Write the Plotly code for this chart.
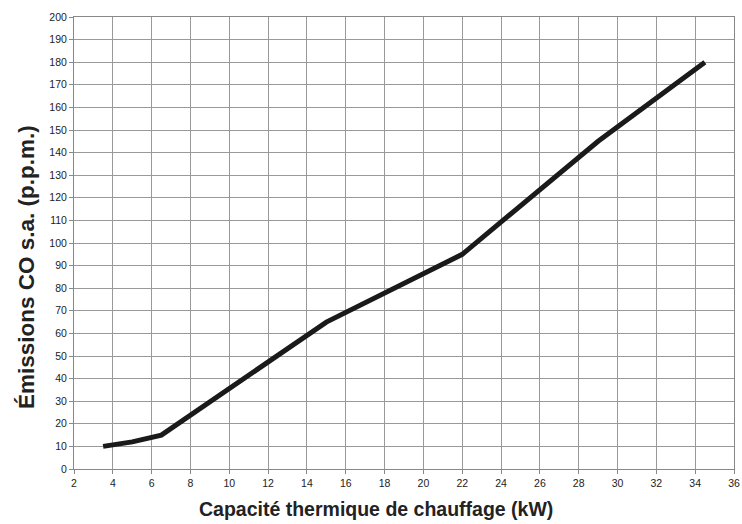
import plotly.graph_objects as go

capacity_kw = [3.5, 5, 6.5, 15, 22, 29, 34.5]
co_ppm = [10, 12, 15, 65, 95, 145, 180]

x_ticks = list(range(2, 37, 2))
y_ticks = list(range(0, 201, 10))

x_title = "Capacité thermique de chauffage (kW)"
y_title = "Émissions CO s.a. (p.p.m.)"

fig = go.Figure()
fig.add_trace(go.Scatter(
    x=capacity_kw, y=co_ppm, mode="lines",
    line=dict(color="#1a1a1a", width=5),
    showlegend=False,
))

tick_font = dict(family="Liberation Sans Narrow, Arial Narrow, Liberation Sans, Arial", size=10.5, color="#222")

L, R, T, B = 74, 8, 17, 55
W, H = 742, 524
pw, ph = W - L - R, H - T - B

fig.update_layout(
    width=W, height=H,
    margin=dict(l=L, r=R, t=T, b=B),
    paper_bgcolor="white", plot_bgcolor="white",
    xaxis=dict(
        range=[2, 36], tickvals=x_ticks, ticks="outside", ticklen=4,
        tickcolor="#888", showgrid=True, gridcolor="#999", gridwidth=1,
        showline=True, linecolor="#888", linewidth=1, mirror=True,
        zeroline=False, tickfont=tick_font, automargin=False,
    ),
    yaxis=dict(
        range=[0, 200], tickvals=y_ticks, ticks="outside", ticklen=4,
        tickcolor="#888", showgrid=True, gridcolor="#999", gridwidth=1,
        showline=True, linecolor="#888", linewidth=1, mirror=True,
        zeroline=False, tickfont=tick_font, automargin=False,
    ),
    annotations=[
        dict(text="<b>" + x_title + "</b>", xref="paper", yref="paper",
             x=(376 - L) / pw, y=(H - B - 509) / ph, xanchor="center", yanchor="middle",
             showarrow=False, font=dict(family="Liberation Sans, Arial", size=19.5, color="#222")),
        dict(text="<b>" + y_title + "</b>", xref="paper", yref="paper",
             x=(26 - L) / pw, y=(H - B - 267) / ph, xanchor="center", yanchor="middle",
             textangle=-90, showarrow=False,
             font=dict(family="Liberation Sans, Arial", size=22.5, color="#222")),
    ],
)

fig.write_html(
    "out.html",
    config={"displayModeBar": False},
    post_script="document.body.style.margin='0';document.body.style.padding='0';",
)
